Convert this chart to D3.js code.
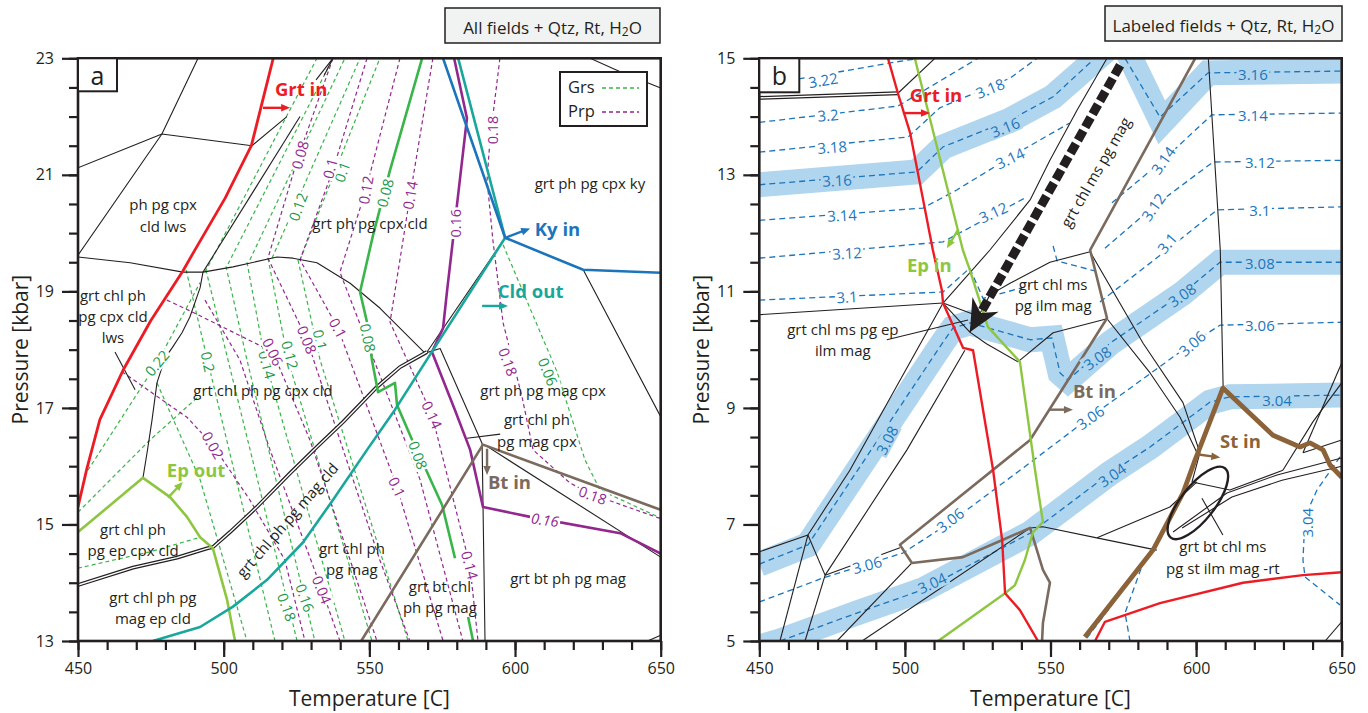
<!DOCTYPE html>
<html><head><meta charset="utf-8">
<script src="https://cdn.jsdelivr.net/npm/d3@7"></script>
<style>
body{margin:0;background:#fff;}
svg text{font-family:"Open Sans","Noto Sans",sans-serif;fill:#231f20;}
</style></head><body>
<svg id="chart" width="1368" height="713"></svg>
<script>
// ================= Panel a: all fields (T in C, P in kbar) =================
const aGrtIn = [[517,23],[509.5,21.5],[500.5,20.6],[490,19.7],[486,19.35],[475,18.5],[465.5,17.65],[457.5,16.8],[453,15.95],[450,15.3]];
const aKyIn = [[575.3,23],[596.6,19.92],[623.4,19.37],[650,19.32]];
const aCldOut = [[580.5,23],[596.6,19.92],[570.8,17.91],[558.8,16.97],[549.2,16.28],[537.5,15.42],[527.2,14.69],[514.9,14.05],[503.2,13.59],[491.9,13.24],[475.7,13]];
const aEpOut = [[450,14.87],[472.3,15.8],[481.6,15.47],[487.4,15.13],[491.9,14.78],[496.3,14.59],[501.2,13.7],[503.9,13]];
const aBtIn = [[547.2,13],[589,16.37],[650,15.25]];
const aPrp016 = [[579.1,23],[583.5,21.97],[576.7,19.02],[575.3,18.37],[571.5,17.96],[579.4,16.96],[584.6,16.28],[589,15.3],[605.2,15.13],[636.1,14.85],[650,14.5]];
const aGrs008 = [[568.1,23],[557.1,21.08],[551.3,19.97],[546.8,18.99],[549.2,18.47],[550.9,17.82],[553,17.27],[558.8,17.43],[559.5,17.05],[564.7,16.45],[569.8,15.9],[575,15.33],[579.4,14.42]];
const aGrs008Low = [[583.9,13.41],[585.6,13]];
const aBounds = [
  [[491.2,23],[478.8,21.7],[450,19.62]],
  [[450,21.12],[478.8,21.7],[509.7,21.5],[521.7,22.0]],
  [[526.2,22.0],[492.9,19.33]],
  [[492.9,19.33],[491.9,19.06],[488.4,18.56],[485.7,18.29],[482.3,18.03],[479.9,17.86],[477.1,17.43],[475.4,16.79],[473.7,16.23],[472.3,15.8]],
  [[537.5,23],[531.7,22.63]],
  [[537.5,23],[534.5,22.71]],
  [[450,19.59],[467.9,19.49],[486,19.33],[492.9,19.33],[503.2,19.42],[518.3,19.59],[523.8,19.57],[532,19.49],[543.4,19.14],[553.7,18.71],[562.3,18.28],[569.1,17.94]],
  [[569.8,17.96],[596.6,19.92]],
  [[569.1,17.94],[574.3,18.02],[588.7,16.39],[589.7,13.0]],
  [[590.4,16.34],[650,14.44]],
  [[596.6,19.92],[623.4,19.37],[650,16.85]],
  [[625.8,23],[636.1,22.77],[650,22.49]],
  [[645.5,13],[650,13.1]],
  [[462.7,17.96],[469.6,17.31]],
  [[583.5,16.48],[594.9,16.55]]
];
const aDouble = [[450,13.96],[468.9,14.26],[484,14.43],[494.3,14.59],[496.3,14.61],[502.2,14.87],[511.4,15.3],[522.8,15.88],[532,16.33],[541,16.76],[552.6,17.36],[560.5,17.7],[569.8,17.96]];
// garnet composition isopleths: grossular (green) and pyrope (purple)
const aGrsIso = [
  [[493.6,19.33],[532,23]],
  [[501.5,19.47],[537.5,23]],
  [[509,19.54],[541.6,23]],
  [[516.6,19.57],[546.8,23]],
  [[526.2,19.54],[553.6,23]],
  [[487.1,19.37],[494.6,17.79],[517.6,13]],
  [[493.9,19.37],[501.5,17.82],[525.2,13]],
  [[500.8,19.43],[508,17.82],[531.3,13]],
  [[508,19.5],[514.2,17.82],[541.6,13]],
  [[515.2,19.57],[522.1,17.82],[550.9,13]],
  [[525.5,19.54],[533.1,17.82],[563.3,13]],
  [[595.9,19.8],[614.4,17.62],[624,16.11],[629.2,15.59],[650,15.11]],
  [[453.4,15.93],[477.1,17.77],[491.9,19.15]],
  [[450,15.21],[474.7,16.45],[491.9,17.22]],
  [[450,14.25],[474.7,14.53],[491.9,14.78]],
  [[477.1,17.43],[491.9,15.77],[508,13]]
];
const aPrpIso = [
  [[537.5,23],[525.2,21.25],[515.2,19.57],[528.6,18.17],[539.9,16.45],[553.6,14.39],[563.9,13]],
  [[549.2,23],[537.5,21.08],[526.2,19.54],[539.2,18.37],[559.5,15.64],[575.3,13]],
  [[560.5,23],[548.8,20.74],[539.9,19.33],[550.2,18.0],[567.4,15.77],[582.1,13]],
  [[571.8,23],[564,20.65],[557.1,18.47],[571.5,16.88],[584.5,14.3],[587.3,13]],
  [[594.8,23],[591.4,21.6],[590.4,20.91],[592.4,19.88],[595.9,18.46],[602.4,17.19],[606.2,16.28],[618.9,15.71],[626.7,15.51],[650,15.1]],
  [[465.1,17.62],[487.4,16.84],[496.3,16.36],[509,15.42],[521,14.39],[527.9,13]],
  [[493.6,18.85],[505.6,17.82],[515.9,16.28],[533.7,13.88],[539.9,13]],
  [[480.5,18.85],[489.1,18.65],[516.9,17.96],[529.6,16.45],[543.4,14.39],[552.6,13]]
];
const aGrsLabels = [
  ["0.12",[525.5,20.45],-70],["0.1",[540.6,21.05],-70],["0.08",[555.4,20.69],-75],
  ["0.22",[477.1,17.77],-50],["0.2",[494.6,17.79],78],["0.14",[514.9,17.74],75],
  ["0.12",[522.8,17.91],75],["0.1",[533.1,18.17],78],["0.08",[549.5,18.2],78],
  ["0.08",[566.7,16.19],70],["0.06",[611.3,17.62],68],["0.18",[521.7,13.58],70],["0.16",[527.9,13.74],70]
];
const aPrpLabels = [
  ["0.08",[526.2,21.34],-75],["0.1",[536.5,21.11],-75],["0.12",[548.8,20.74],-80],
  ["0.14",[564,20.65],-80],["0.16",[579.4,20.17],-90],["0.18",[592.4,21.77],-90],
  ["0.06",[516.9,17.96],65],["0.08",[528.6,18.17],68],["0.1",[539.2,18.37],62],
  ["0.02",[496.3,16.36],60],["0.04",[533.7,13.88],68],["0.1",[559.5,15.64],65],
  ["0.14",[571.5,16.88],65],["0.14",[584.5,14.3],75],["0.18",[597.6,17.79],70],
  ["0.18",[626.7,15.5],20],["0.16",[610.3,15.08],8]
];
const aFieldLabels = [
  [["ph pg cpx","cld lws"],[479.2,20.31],0],
  [["grt ph pg cpx cld"],[550.2,20.17],0],
  [["grt ph pg cpx ky"],[625.7,20.86],0],
  [["grt chl ph","pg cpx cld","lws"],[462,18.58],0],
  [["grt chl ph pg cpx cld"],[513.5,17.31],0],
  [["grt ph pg mag cpx"],[609.6,17.31],0],
  [["grt chl ph","pg mag cpx"],[607.5,16.62],0],
  [["grt chl ph","pg ep cpx cld"],[468.9,14.74],0],
  [["grt chl ph pg","mag ep cld"],[475.7,13.58],0],
  [["grt chl ph pg mag cld"],[521.7,15.08],-49],
  [["grt chl ph","pg mag"],[544,14.42],0],
  [["grt bt chl","ph pg mag"],[574.2,13.76],0],
  [["grt bt ph pg mag"],[618.2,14.08],0]
];

// ================= Panel b: labelled fields =================
const bGrtIn = [[494.2,15],[497.6,14.4],[501.8,13.72],[509.6,11.71],[512.7,11.02],[513.1,10.8],[520,10.03],[523.4,9.99],[530.3,7.93],[533.4,6.73],[534.4,5.82],[539.5,5.53],[545.7,5]];
const bGrtInHighT = [[565.3,5],[568.7,5.33],[587.6,5.65],[616.1,6],[636.7,6.13],[650,6.18]];
const bEpIn = [[503.4,15],[519.9,11.71],[522.3,11.37],[528.5,10.39],[539.5,9.79],[544.7,7.93],[547.4,7.04],[544,6.87],[541.2,6.39],[537.8,5.96],[534.4,5.82],[511.4,5]];
const bBtIn = [[599.7,15],[563.6,11.71],[569.4,10.54],[556.7,9.53],[543,8.45],[498.3,6.65],[502.4,6.34],[519.9,6.44],[533.3,6.73],[543,6.94],[547.4,6.22],[549.8,6.0],[547.4,5.31],[547.1,5]];
const bStIn = [[561.8,5.07],[585.2,6.56],[595.5,7.54],[599.6,8.1],[600.6,8.23],[609.2,9.34],[626.4,8.53],[635.7,8.33],[639.1,8.4],[643.6,8.28],[646,8.02],[650,7.81]];
const bDouble = [[450,14.32],[497.6,14.4]];
const bBounds = [
  [[497.6,14.4],[510.3,15]],
  [[450,10.6],[513.1,10.8]],
  [[466.7,6.82],[481.1,7.93],[513.1,10.8],[529.2,11.71],[543,12.57],[549.8,13.25],[559.1,14.11],[569.4,15]],
  [[450,6.53],[466.7,6.82]],
  [[466.7,6.82],[457.1,5]],
  [[466.7,6.82],[472.6,6.13]],
  [[472.6,6.13],[465.7,5]],
  [[472.6,6.13],[500.7,8.28],[520.6,9.99]],
  [[472.6,6.13],[498.3,6.6]],
  [[502.4,6.34],[476.7,5]],
  [[485.3,5],[543,6.94]],
  [[543,6.94],[547.4,6.96],[565.9,6.77],[586.5,6.56]],
  [[604.2,15],[608.3,11.71],[609.3,9.31]],
  [[538.8,9.79],[550.9,10.29],[569.4,10.53]],
  [[522.3,10.3],[529.2,10.94],[536.1,11.14],[549.8,11.5],[563.6,11.68]],
  [[563.6,11.68],[581.8,10.11],[595.5,9.09],[601.3,8.23]],
  [[569.4,10.53],[584.2,9.6],[594.5,8.84],[600.3,8.23]],
  [[513.1,10.8],[522.3,10.3]],
  [[513.1,10.8],[524,10.6],[522.3,10.3]],
  [[522.3,10.3],[528,10.1],[538.8,9.79]],
  [[493.8,10.17],[521.7,10.51]],
  [[602,7.45],[609.2,6.82]],
  [[566,6.77],[591,7.3],[600.3,7.73]],
  [[592.1,6.87],[610.6,7.54],[627.8,7.85],[650,8.14]],
  [[595.2,6.94],[612.3,7.47],[629.5,7.76],[650,8.0]],
  [[601.3,8.23],[598.6,7.73],[611.6,7.59],[629.8,7.93]],
  [[636.7,8.23],[650,9.77]],
  [[636.7,8.23],[650,8.45]],
  [[629.8,7.93],[640.1,8.76],[650,9.43]],
  [[644.3,5],[650,5.33]]
];
// garnet molar volume / density isopleths (blue dashed)
const bIso = [
  [[450,14.53],[497.3,14.94],[505,15]],
  [[450,13.9],[497.6,14.18],[525.1,15]],
  [[450,13.39],[501.1,13.65],[512,14.15],[536.1,14.66],[545.4,15]],
  [[450,12.83],[504.1,13.05],[513.1,13.48],[536.1,13.94],[550.9,14.34],[564.6,14.97]],
  [[575.6,15],[587.6,13.99],[604.1,14.75],[650,14.78]],
  [[450,12.22],[506.2,12.43],[517.8,12.74],[538.4,13.37],[556.6,13.89]],
  [[571.1,12.52],[588.6,13.25],[605.4,14.03],[650,14.06]],
  [[450,11.57],[513.1,11.85],[541.9,12.62]],
  [[568.7,11.74],[585.2,12.45],[605.8,13.22],[650,13.25]],
  [[450,10.85],[513.1,10.99],[522.3,11.4],[526.8,10.88],[543,11.1]],
  [[550.9,11.78],[552.3,11.52],[565.3,11.35]],
  [[567,10.82],[590,11.71],[607.2,12.4],[650,12.45]],
  [[450,6.32],[466.7,6.65],[513.1,10.13],[516.5,10.37],[522.3,10.46],[543,10.17],[550.5,10.2],[553.3,9.6],[556,9.48],[570.4,10.11],[595.5,10.97],[608.2,11.5],[650,11.5]],
  [[450,5.67],[471.8,6.08],[499.3,6.51],[515.4,7.03],[543,8.06],[563.6,8.84],[598.6,10.11],[608.2,10.42],[650,10.47]],
  [[457.1,5],[483.5,5.48],[506.2,5.88],[543,6.85],[570.4,7.88],[584.2,8.33],[604.8,9.1],[611.6,9.19],[650,9.22]],
  [[649.4,8.16],[641.5,7.59],[637.4,7.13],[636.7,6.39],[637.4,6.1],[649.4,5.62]],
  [[562.5,5.05],[581.8,6.34],[575.6,5.48],[577.3,5]]
];
const bBands = [
  [[450,12.83],[504.1,13.05],[513.1,13.48],[536.1,13.94],[550.9,14.34],[570.5,15.2],[575.6,15.2],[588.2,13.9],[604.1,14.75],[650,14.78]],
  [[450,6.32],[466.7,6.65],[513.1,10.13],[516.5,10.37],[522.3,10.46],[543,10.17],[550.5,10.2],[553.3,9.6],[556,9.48],[570.4,10.11],[595.5,10.97],[608.2,11.5],[650,11.5]],
  [[447,4.85],[457.1,5],[483.5,5.48],[506.2,5.88],[543,6.85],[570.4,7.88],[584.2,8.33],[604.8,9.1],[611.6,9.19],[650,9.22]]
];
const bIsoLabels = [
  ["3.22",[471.9,14.63],-10,0],["3.2",[473.6,14.03],-5,0],["3.18",[475,13.48],-4,0],
  ["3.16",[476.7,12.91],-3,1],["3.14",[478.4,12.31],-3,0],["3.12",[480.1,11.66],-3,0],
  ["3.1",[480.1,10.91],-3,0],["3.18",[529.2,14.49],-22,0],["3.16",[534.4,13.82],-22,1],
  ["3.14",[536.1,13.29],-25,0],["3.12",[530.3,12.36],-25,0],["3.14",[588.6,13.25],-55,0],
  ["3.12",[585.2,12.45],-55,0],["3.1",[590,11.83],-50,0],["3.16",[619.5,14.73],0,1],
  ["3.14",[619.5,14.03],0,0],["3.12",[621.9,13.22],0,0],["3.1",[621.9,12.4],0,0],
  ["3.08",[621.9,11.49],0,1],["3.06",[621.9,10.42],0,0],["3.04",[627.8,9.14],0,1],
  ["3.08",[493.8,8.45],-62,1],["3.08",[566,9.86],-35,1],["3.08",[595.1,10.94],-35,1],
  ["3.06",[563.6,8.84],-35,0],["3.06",[598.6,10.11],-42,0],["3.06",[487,6.31],-15,0],
  ["3.06",[515.5,7.08],-38,0],["3.04",[509.3,6.0],-25,1],["3.04",[571.1,7.85],-35,1],
  ["3.04",[638.1,7.03],-90,0]
];
const bFieldLabels = [
  [["grt chl ms pg mag"],[565.4,13.05],-60],
  [["grt chl ms","pg ilm mag"],[550.9,10.95],0],
  [["grt chl ms pg ep","ilm mag"],[478.7,10.18],0],
  [["grt bt chl ms","pg st ilm mag -rt"],[609.2,6.44],0]
];
const bAssemblageEllipse = [600.6,7.37];
const bPathArrow = [[573.9,14.88],[522.3,10.3]];

// ---------------- drawing ----------------
const C = {red:"#ed1c24", ep:"#8dc63f", grs:"#39b54a", grsTxt:"#1a9a4a", prp:"#92278f",
  ky:"#1c75bc", cld:"#19a79c", bt:"#7b6a5e", st:"#8c6239", iso:"#1c75bc", band:"#b0d5ef", ink:"#231f20"};

const svg = d3.select("#chart");
const defs = svg.append("defs");

function makePanel(id, x, y) {
  const [x0, x1] = x.range(), [yb, yt] = y.range();
  defs.append("clipPath").attr("id", id).append("rect")
    .attr("x", x0).attr("y", yt).attr("width", x1 - x0).attr("height", yb - yt);
  const g = svg.append("g");
  const plot = g.append("g").attr("clip-path", `url(#${id})`);
  return {g, plot, x, y};
}
const PA = makePanel("clipA", d3.scaleLinear().domain([450,650]).range([78,660.7]), d3.scaleLinear().domain([13,23]).range([641,58.3]));
const PB = makePanel("clipB", d3.scaleLinear().domain([450,650]).range([759.3,1341.7]), d3.scaleLinear().domain([5,15]).range([641,58.3]));

function draw(P, pts, st) {
  const gen = d3.line().x(d => P.x(d[0])).y(d => P.y(d[1]));
  const p = P.plot.append("path").attr("d", gen(pts)).attr("fill", "none")
    .attr("stroke-linejoin", "round");
  Object.entries(st).forEach(([k, v]) => p.attr(k, v));
  return p;
}
function doubleLine(P, pts) {
  draw(P, pts, {stroke: C.ink, "stroke-width": 3.8});
  draw(P, pts, {stroke: "#fff", "stroke-width": 1.4});
}
function arrow(P, from, to, color, w, head) {
  const x1 = P.x(from[0]), y1 = P.y(from[1]), x2 = P.x(to[0]), y2 = P.y(to[1]);
  const a = Math.atan2(y2 - y1, x2 - x1), c = Math.cos(a), s = Math.sin(a);
  const bx = x2 - head * c, by = y2 - head * s, hw = head * 0.42;
  P.g.append("line").attr("x1", x1).attr("y1", y1).attr("x2", bx + c).attr("y2", by + s)
    .attr("stroke", color).attr("stroke-width", w);
  P.g.append("polygon").attr("fill", color)
    .attr("points", [[x2, y2], [bx + hw * s, by - hw * c], [bx - hw * s, by + hw * c]].map(d => d.join(",")).join(" "));
}
// isopleth value label that cuts a gap in the line beneath it
function isoLabel(P, str, pos, rot, size, color, bg, italic) {
  const g = P.g.append("g").attr("transform", `translate(${P.x(pos[0])},${P.y(pos[1])}) rotate(${rot})`);
  const r = g.append("rect").attr("fill", bg);
  const t = g.append("text").attr("text-anchor", "middle").attr("dominant-baseline", "central")
    .style("font-size", size + "px").style("fill", color).style("font-style", italic ? "italic" : "normal").text(str);
  const b = t.node().getBBox();
  r.attr("x", b.x - 1.5).attr("y", b.y + 2).attr("width", b.width + 3).attr("height", b.height - 4);
}
function fieldLabel(P, lines, pos, rot, size) {
  const lh = size * 1.42;
  const t = P.g.append("text")
    .attr("transform", `translate(${P.x(pos[0])},${P.y(pos[1])}) rotate(${rot})`)
    .attr("text-anchor", "middle").style("font-size", size + "px");
  lines.forEach((ln, i) => t.append("tspan").attr("x", 0)
    .attr("y", (i - (lines.length - 1) / 2) * lh).attr("dominant-baseline", "central").text(ln));
}
function phaseLabel(P, str, pos, color) {
  P.g.append("text").attr("x", P.x(pos[0])).attr("y", P.y(pos[1]))
    .style("font-size", "18.5px").style("font-weight", "700").style("fill", color).text(str);
}
function axes(P, xMajor, yMajor, xMinor, yMinor) {
  const [x0, x1] = P.x.range(), [yb, yt] = P.y.range();
  const styleAxis = g => {
    g.select(".domain").remove();
    g.selectAll(".tick line").attr("stroke", C.ink).attr("stroke-width", 2.2);
    g.selectAll("text").style("font-size", "16px").style("fill", C.ink);
  };
  P.g.append("g").attr("transform", `translate(0,${yb})`)
    .call(d3.axisBottom(P.x).tickValues(xMinor).tickSize(9).tickFormat("")).call(styleAxis);
  P.g.append("g").attr("transform", `translate(0,${yb})`)
    .call(d3.axisBottom(P.x).tickValues(xMajor).tickSize(16).tickPadding(6).tickFormat(d3.format("d"))).call(styleAxis);
  P.g.append("g").attr("transform", `translate(${x0},0)`)
    .call(d3.axisLeft(P.y).tickValues(yMinor).tickSize(9).tickFormat("")).call(styleAxis);
  P.g.append("g").attr("transform", `translate(${x0},0)`)
    .call(d3.axisLeft(P.y).tickValues(yMajor).tickSize(16).tickPadding(8).tickFormat(d3.format("d"))).call(styleAxis);
  P.g.append("rect").attr("x", x0).attr("y", yt).attr("width", x1 - x0).attr("height", yb - yt)
    .attr("fill", "none").attr("stroke", C.ink).attr("stroke-width", 2.6);
  P.g.append("text").attr("x", (x0 + x1) / 2).attr("y", 698).attr("text-anchor", "middle")
    .attr("dominant-baseline", "central").style("font-size", "21px").text("Temperature [C]");
  P.g.append("text").attr("transform", `translate(${x0 - 58},${(yb + yt) / 2}) rotate(-90)`)
    .attr("text-anchor", "middle").attr("dominant-baseline", "central").style("font-size", "21px").text("Pressure [kbar]");
}
function letterBox(P, letter, w, h) {
  const x0 = P.x.range()[0], yt = P.y.range()[1];
  P.g.append("rect").attr("x", x0).attr("y", yt).attr("width", w).attr("height", h)
    .attr("fill", "#fff").attr("stroke", C.ink).attr("stroke-width", 2);
  P.g.append("text").attr("x", x0 + w / 2).attr("y", yt + h / 2).attr("text-anchor", "middle")
    .attr("dominant-baseline", "central").style("font-size", "25px").text(letter);
}
function titleBox(x0, y0, w, h, pre) {
  svg.append("rect").attr("x", x0).attr("y", y0).attr("width", w).attr("height", h)
    .attr("fill", "#f1f2f2").attr("stroke", C.ink).attr("stroke-width", 1.5);
  const t = svg.append("text").attr("x", x0 + w / 2).attr("y", y0 + h / 2 + 1).attr("text-anchor", "middle")
    .attr("dominant-baseline", "central").style("font-size", "17px");
  t.append("tspan").text(pre + "H");
  t.append("tspan").attr("dy", 4).style("font-size", "12px").text("2");
  t.append("tspan").attr("dy", -4).text("O");
}

const xMajor = [450,500,550,600,650], xMinor = d3.range(450, 651, 10);

// ---- panel a ----
aGrsIso.forEach(l => draw(PA, l, {stroke: C.grs, "stroke-width": 1.2, "stroke-dasharray": "4,3"}));
aPrpIso.forEach(l => draw(PA, l, {stroke: C.prp, "stroke-width": 1.2, "stroke-dasharray": "4,3"}));
aBounds.forEach(l => draw(PA, l, {stroke: C.ink, "stroke-width": 1.1}));
doubleLine(PA, aDouble);
draw(PA, aGrs008, {stroke: C.grs, "stroke-width": 2.6});
draw(PA, aGrs008Low, {stroke: C.grs, "stroke-width": 2.6});
draw(PA, aPrp016, {stroke: C.prp, "stroke-width": 2.6});
draw(PA, aBtIn, {stroke: C.bt, "stroke-width": 2.6});
draw(PA, aEpOut, {stroke: C.ep, "stroke-width": 2.6});
draw(PA, aCldOut, {stroke: C.cld, "stroke-width": 2.6});
draw(PA, aKyIn, {stroke: C.ky, "stroke-width": 2.6});
draw(PA, aGrtIn, {stroke: C.red, "stroke-width": 2.8});
aGrsLabels.forEach(([s, p, r]) => isoLabel(PA, s, p, r, 14.5, C.grsTxt, "#fff"));
aPrpLabels.forEach(([s, p, r], i) => isoLabel(PA, s, p, r, 14.5, C.prp, "#fff", i === aPrpLabels.length - 1));
aFieldLabels.forEach(([l, p, r]) => fieldLabel(PA, l, p, r, 15));
arrow(PA, [513.5,22.15], [522.8,22.15], C.red, 2.4, 9);
arrow(PA, [596.6,19.92], [605.2,20.08], C.ky, 2.4, 9);
arrow(PA, [588.7,18.75], [597.6,18.75], C.cld, 2.4, 9);
arrow(PA, [480.9,15.46], [486,15.73], C.ep, 2.4, 9);
arrow(PA, [590.4,16.3], [590.4,15.85], C.bt, 2.4, 9);
phaseLabel(PA, "Grt in", [517.6,22.35], C.red);
phaseLabel(PA, "Ky in", [606.8,19.95], C.ky);
phaseLabel(PA, "Cld out", [594.1,18.89], C.cld);
phaseLabel(PA, "Ep out", [480.5,15.81], C.ep);
phaseLabel(PA, "Bt in", [590.7,15.6], C.bt);
axes(PA, xMajor, [13,15,17,19,21,23], xMinor, d3.range(13, 23.01, 0.5));
letterBox(PA, "a", 39, 33);
// legend
const lg = PA.g.append("g");
lg.append("rect").attr("x", 560).attr("y", 72).attr("width", 87).attr("height", 54)
  .attr("fill", "#fff").attr("stroke", C.ink).attr("stroke-width", 2);
[["Grs", C.grs, 86], ["Prp", C.prp, 110]].forEach(([s, c, yy]) => {
  lg.append("text").attr("x", 568).attr("y", yy).attr("dominant-baseline", "central").style("font-size", "16.5px").text(s);
  lg.append("line").attr("x1", 602).attr("x2", 639).attr("y1", yy + 2).attr("y2", yy + 2)
    .attr("stroke", c).attr("stroke-width", 1.4).attr("stroke-dasharray", "4,3");
});
titleBox(445, 8, 215, 35, "All fields + Qtz, Rt, ");

// ---- panel b ----
bBands.forEach(l => draw(PB, l, {stroke: C.band, "stroke-width": 25, "stroke-linejoin": "miter"}));
bIso.forEach(l => draw(PB, l, {stroke: C.iso, "stroke-width": 1.3, "stroke-dasharray": "6,4"}));
bBounds.forEach(l => draw(PB, l, {stroke: C.ink, "stroke-width": 1.1}));
doubleLine(PB, bDouble);
draw(PB, bBtIn, {stroke: C.bt, "stroke-width": 2.6});
draw(PB, bEpIn, {stroke: C.ep, "stroke-width": 2.4});
draw(PB, bGrtIn, {stroke: C.red, "stroke-width": 2.4});
draw(PB, bGrtInHighT, {stroke: C.red, "stroke-width": 2.4});
draw(PB, bStIn, {stroke: C.st, "stroke-width": 4.8});
PB.g.append("ellipse").attr("cx", PB.x(bAssemblageEllipse[0])).attr("cy", PB.y(bAssemblageEllipse[1]))
  .attr("rx", 44).attr("ry", 17).attr("fill", "none").attr("stroke", C.ink).attr("stroke-width", 2.4)
  .attr("transform", `rotate(-52,${PB.x(bAssemblageEllipse[0])},${PB.y(bAssemblageEllipse[1])})`);
bIsoLabels.forEach(([s, p, r, inBand]) => isoLabel(PB, s, p, r, 15, C.iso, inBand ? C.band : "#fff"));
bFieldLabels.forEach(([l, p, r]) => fieldLabel(PB, l, p, r, 15));
// heavy dashed path arrow
{
  const [s0, s1] = bPathArrow;
  const x1 = PB.x(s0[0]), y1 = PB.y(s0[1]), x2 = PB.x(s1[0]), y2 = PB.y(s1[1]);
  const L = Math.hypot(x2 - x1, y2 - y1), ux = (x2 - x1) / L, uy = (y2 - y1) / L;
  const nx = x2 - 22 * ux, ny = y2 - 22 * uy, bx = x2 - 32 * ux, by = y2 - 32 * uy;
  PB.g.append("line").attr("x1", x1).attr("y1", y1).attr("x2", nx).attr("y2", ny)
    .attr("stroke", C.ink).attr("stroke-width", 9).attr("stroke-dasharray", "11,4");
  PB.g.append("polygon").attr("fill", C.ink).attr("points",
    [[x2, y2], [bx - 15 * uy, by + 15 * ux], [nx, ny], [bx + 15 * uy, by - 15 * ux]].map(d => d.join(",")).join(" "));
}
arrow(PB, [499.3,14.06], [508.6,14.06], C.red, 2.4, 9);
arrow(PB, [518.2,12.05], [514.4,11.74], C.ep, 2.4, 9);
arrow(PB, [549.8,8.97], [557.7,8.97], C.bt, 2.4, 9);
arrow(PB, [600.7,8.2], [608.3,8.15], C.st, 2.4, 9);
phaseLabel(PB, "Grt in", [501.7,14.25], C.red);
phaseLabel(PB, "Ep in", [500.7,11.33], C.ep);
phaseLabel(PB, "Bt in", [557.7,9.17], C.bt);
phaseLabel(PB, "St in", [608.2,8.31], C.st);
axes(PB, xMajor, [5,7,9,11,13,15], xMinor, d3.range(5, 15.01, 0.5));
letterBox(PB, "b", 40, 34);
titleBox(1105, 6, 237, 35, "Labeled fields + Qtz, Rt, ");
</script></body></html>
